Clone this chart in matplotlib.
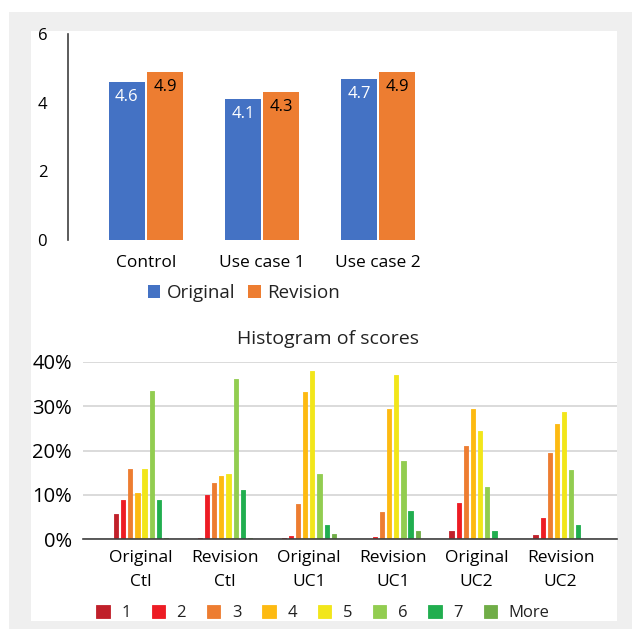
import numpy as np
import matplotlib.pyplot as plt
from matplotlib.patches import Rectangle
from matplotlib.ticker import PercentFormatter

plt.rcParams['font.family'] = ['Open Sans', 'DejaVu Sans']
plt.rcParams['text.color'] = '#222222'

# mean scores
score_cats = ['Control', 'Use case 1', 'Use case 2']
original = [4.6, 4.1, 4.7]
revision = [4.9, 4.3, 4.9]

# score histograms (share of answers)
hist_groups = ['Original\nCtl', 'Revision\nCtl', 'Original\nUC1',
               'Revision\nUC1', 'Original\nUC2', 'Revision\nUC2']
bins = ['1', '2', '3', '4', '5', '6', '7', 'More']
hist = {
    'Original Ctl': [0.057, 0.088, 0.158, 0.105, 0.158, 0.334, 0.088, 0.004],
    'Revision Ctl': [0.004, 0.100, 0.126, 0.143, 0.148, 0.361, 0.110, 0.003],
    'Original UC1': [0.002, 0.008, 0.079, 0.332, 0.380, 0.147, 0.032, 0.013],
    'Revision UC1': [0.000, 0.006, 0.062, 0.294, 0.369, 0.176, 0.064, 0.019],
    'Original UC2': [0.019, 0.082, 0.211, 0.293, 0.243, 0.117, 0.019, 0.000],
    'Revision UC2': [0.010, 0.047, 0.194, 0.259, 0.286, 0.155, 0.032, 0.000],
}
bin_colors = ['#C0202A', '#ED1C24', '#ED7D31', '#FDBA12',
              '#F2E61A', '#92CD50', '#21AE4F', '#70AD47']

W, H = 639, 629
fig = plt.figure(figsize=(W / 100, H / 100), dpi=100)
fig.patch.set_facecolor('white')

# grey frame and white card behind the charts
fig.patches.append(Rectangle((9 / W, 0), 623 / W, 617 / H, transform=fig.transFigure,
                             facecolor='#EFEFEF', edgecolor='none', zorder=-2))
fig.patches.append(Rectangle((31 / W, 1 - 621 / H), 586 / W, 590 / H,
                             transform=fig.transFigure,
                             facecolor='white', edgecolor='none', zorder=-1))

# ---- mean score bars ----
ax1 = fig.add_axes([68 / W, 1 - 240 / H, (450 - 68) / W, 206 / H])
ax1.set_facecolor('none')
x = np.arange(len(score_cats))
bw = 0.31
b1 = ax1.bar(x - bw / 2 - 0.01, original, bw, color='#4472C4', label='Original')
b2 = ax1.bar(x + bw / 2 + 0.01, revision, bw, color='#ED7D31', label='Revision')
for bars, vals, col in [(b1, original, 'white'), (b2, revision, 'black')]:
    for r, v in zip(bars, vals):
        ax1.annotate(f'{v:.1f}', (r.get_x() + r.get_width() / 2, v),
                     xytext=(0, -15), textcoords='offset pixels',
                     ha='center', va='center', fontsize=12, color=col)
ax1.set_xlim(-0.672, 2.62)
ax1.set_ylim(0, 6)
ax1.set_yticks([0, 2, 4, 6])
ax1.set_xticks(x)
ax1.set_xticklabels(score_cats)
for s in ['top', 'right', 'bottom']:
    ax1.spines[s].set_visible(False)
ax1.spines['left'].set_color('#404040')
ax1.spines['left'].set_linewidth(1.2)
ax1.tick_params(axis='y', length=0, pad=15, labelsize=12)
ax1.tick_params(axis='x', length=0, pad=11, labelsize=12.5)
fig.legend(handles=[b1, b2], loc='center', bbox_to_anchor=(244 / W, 1 - 293 / H),
           ncol=2, frameon=False, fontsize=13.5, handlelength=0.65, handleheight=0.65,
           handletextpad=0.35, columnspacing=0.7)

# ---- histogram of scores ----
ax2 = fig.add_axes([83 / W, 1 - 539.3 / H, 534 / W, 177.6 / H])
ax2.set_facecolor('none')
gx = np.arange(len(hist_groups))
step = 0.0852
handles = []
for i, (b, c) in enumerate(zip(bins, bin_colors)):
    vals = [hist[k][i] for k in hist]
    h = ax2.bar(gx + (i - 3.5) * step, vals, 0.05, color=c, edgecolor=c,
                linewidth=0.6, joinstyle='round', label=b, zorder=3)
    handles.append(h)
ax2.set_xlim(-0.691, 5.673)
ax2.set_ylim(0, 0.4)
ax2.set_yticks([0, 0.1, 0.2, 0.3, 0.4])
ax2.yaxis.set_major_formatter(PercentFormatter(1.0, decimals=0))
ax2.set_xticks(gx)
ax2.set_xticklabels(hist_groups, linespacing=1.6)
ax2.grid(axis='y', color='#D4D4D4', linewidth=1.2, zorder=0)
for s in ['top', 'right', 'left']:
    ax2.spines[s].set_visible(False)
ax2.spines['bottom'].set_color('#404040')
ax2.spines['bottom'].set_linewidth(1.2)
ax2.spines['bottom'].set_zorder(4)
ax2.tick_params(axis='y', length=0, pad=8, labelsize=14.5)
ax2.tick_params(axis='x', length=0, pad=8, labelsize=12.5)
fig.text(328 / W, 1 - 339 / H, 'Histogram of scores', ha='center', va='center',
         fontsize=14)
fig.legend(handles=handles, loc='center', bbox_to_anchor=(323 / W, 1 - 613 / H),
           ncol=8, frameon=False, fontsize=12, handlelength=0.8, handleheight=0.8,
           handletextpad=0.7, columnspacing=1.25)

fig.savefig('out.png', dpi=100)
